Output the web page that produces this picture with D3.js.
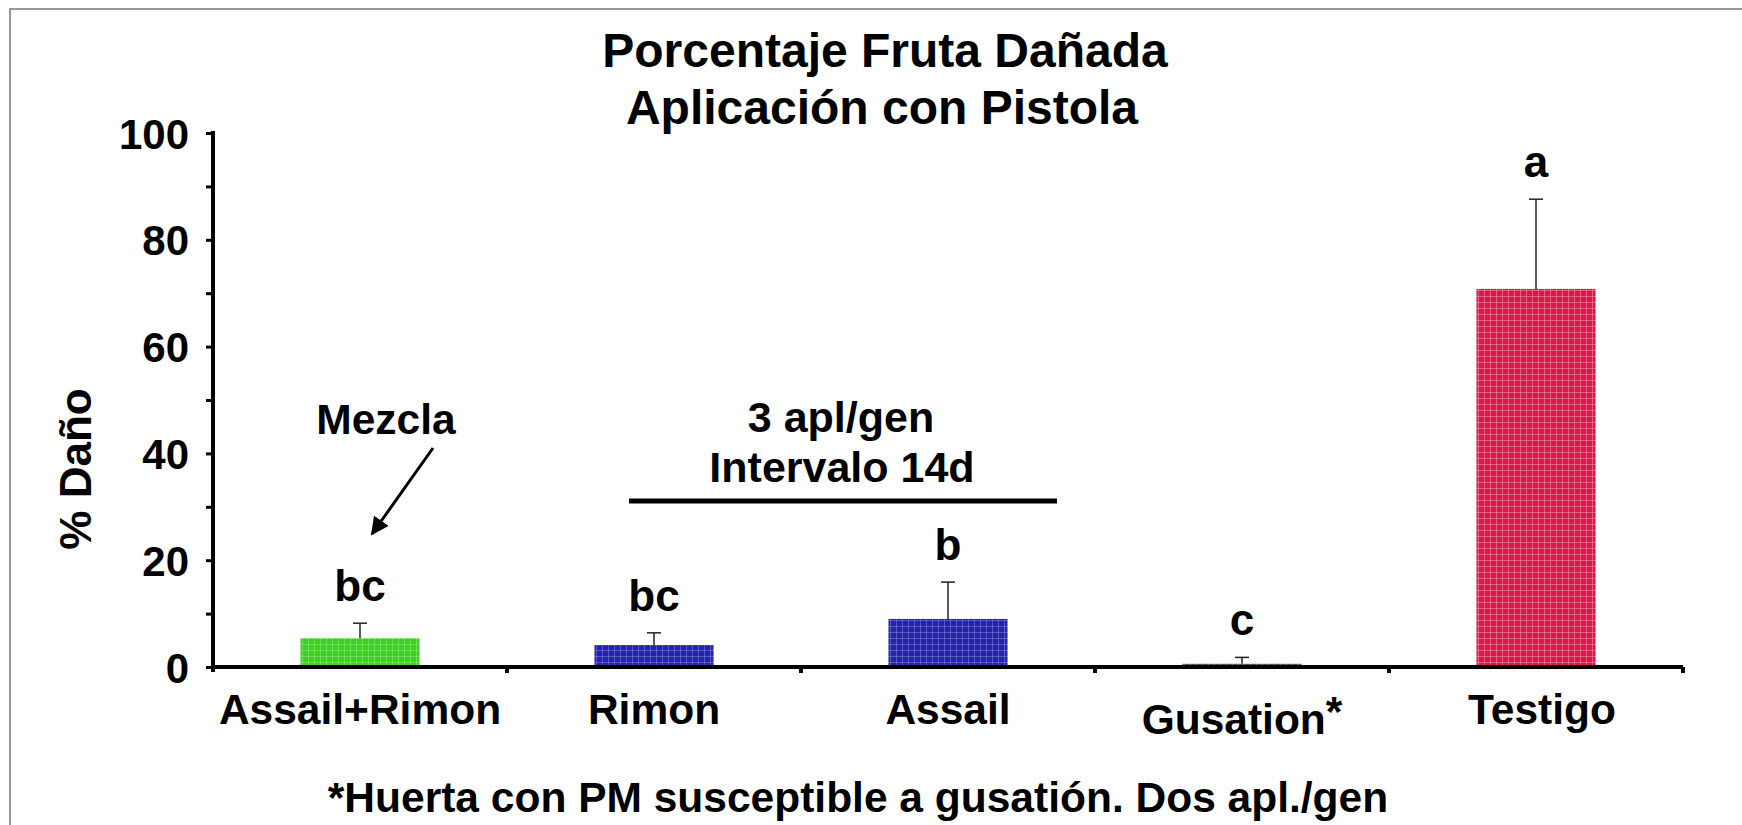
<!DOCTYPE html>
<html>
<head>
<meta charset="utf-8">
<script src="https://cdn.jsdelivr.net/npm/d3@7"></script>
<style>
  body { margin: 0; background: #fff; }
  svg text { font-family: "Liberation Sans", Arial, sans-serif; font-weight: bold; fill: #000; }
</style>
</head>
<body>
<svg id="chart" width="1742" height="825"></svg>
<script>
// data
var categories = ["Assail+Rimon", "Rimon", "Assail", "Gusation", "Testigo"];
var means = [5.4, 4.1, 9.0, 0.6, 70.8];
var upper = [8.2, 6.4, 15.9, 1.8, 87.6];
var letters = ["bc", "bc", "b", "c", "a"];
var yTicks = [0, 20, 40, 60, 80, 100];
var colors = ["#3fcf22", "#2424a6", "#2424a6", "#555555", "#d8184a"];
var lights = ["#8ae87a", "#7a7ad6", "#7a7ad6", "#aaaaaa", "#f08aa4"];

var svg = d3.select("#chart");

// frame
svg.append("rect").attr("x", 10).attr("y", 9).attr("width", 1740).attr("height", 830)
  .attr("fill", "none").attr("stroke", "#777").attr("stroke-width", 1.5);

var x = d3.scaleBand().domain(categories).range([213, 1683])
  .paddingInner(0.595).paddingOuter(0.2975);
var y = d3.scaleLinear().domain([0, 100]).range([667, 133]);

// checkered fills
var defs = svg.append("defs");
categories.forEach(function (c, i) {
  var p = defs.append("pattern").attr("id", "pat" + i)
    .attr("patternUnits", "userSpaceOnUse").attr("width", 6).attr("height", 6);
  p.append("rect").attr("width", 6).attr("height", 6).attr("fill", colors[i]);
  p.append("rect").attr("x", 2).attr("width", 1).attr("height", 6).attr("fill", lights[i]).attr("opacity", 0.6);
  p.append("rect").attr("y", 2).attr("width", 6).attr("height", 1).attr("fill", lights[i]).attr("opacity", 0.6);
});
defs.append("marker").attr("id", "arrow").attr("viewBox", "0 0 10 10")
  .attr("refX", 9).attr("refY", 5).attr("markerWidth", 6).attr("markerHeight", 6)
  .attr("orient", "auto")
  .append("path").attr("d", "M0,0 L10,5 L0,10 z").attr("fill", "#000");

// bars
svg.selectAll("rect.bar").data(categories).enter().append("rect")
  .attr("class", "bar")
  .attr("x", function (d) { return x(d); })
  .attr("width", x.bandwidth())
  .attr("y", function (d, i) { return y(means[i]); })
  .attr("height", function (d, i) { return y(0) - y(means[i]); })
  .attr("fill", function (d, i) { return "url(#pat" + i + ")"; });

// error bars (upper only)
var err = svg.append("g").attr("stroke", "#222").attr("stroke-width", 1.5);
categories.forEach(function (c, i) {
  var cx = x(c) + x.bandwidth() / 2;
  err.append("line").attr("x1", cx).attr("x2", cx).attr("y1", y(means[i])).attr("y2", y(upper[i]));
  err.append("line").attr("x1", cx - 7).attr("x2", cx + 7).attr("y1", y(upper[i])).attr("y2", y(upper[i]));
});

// significance letters
svg.selectAll("text.letter").data(letters).enter().append("text")
  .attr("class", "letter")
  .attr("x", function (d, i) { return x(categories[i]) + x.bandwidth() / 2; })
  .attr("y", function (d, i) { return y(upper[i]) - 22; })
  .attr("text-anchor", "middle").attr("font-size", 44)
  .text(function (d) { return d; });

// y axis
var yAxis = d3.axisLeft(y).tickValues(d3.range(0, 101, 10)).tickSize(7)
  .tickFormat(function (d) { return yTicks.indexOf(d) >= 0 ? d : ""; });
var gy = svg.append("g").attr("transform", "translate(213,0)").call(yAxis);
gy.select(".domain").attr("stroke", "#000").attr("stroke-width", 4).attr("d", "M0,131V672");
gy.selectAll(".tick line").attr("stroke", "#000").attr("stroke-width", 3);
gy.selectAll(".tick text").attr("font-size", 42).attr("x", -24).attr("dy", "0.36em")
  .style("font-family", "'Liberation Sans', Arial, sans-serif").style("font-weight", "bold");

// x axis
var gx = svg.append("g").attr("transform", "translate(0,667)");
gx.append("line").attr("x1", 213).attr("x2", 1683).attr("stroke", "#000").attr("stroke-width", 4);
categories.forEach(function (c) {
  var bx = x(c) + x.bandwidth() / 2 + x.step() / 2;
  gx.append("line").attr("x1", bx).attr("x2", bx).attr("y1", 0).attr("y2", 6)
    .attr("stroke", "#000").attr("stroke-width", 4);
});
categories.forEach(function (c, i) {
  var t = gx.append("text").attr("x", x(c) + x.bandwidth() / 2 + (i === 4 ? 6 : 0))
    .attr("y", i === 3 ? 67 : 57).attr("text-anchor", "middle").attr("font-size", 42.5);
  t.append("tspan").text(c);
  if (i === 3) t.append("tspan").attr("dy", -8).text("*");
});

// titles
svg.append("text").attr("x", 885).attr("y", 67).attr("text-anchor", "middle")
  .attr("font-size", 48).text("Porcentaje Fruta Dañada");
svg.append("text").attr("x", 882).attr("y", 124).attr("text-anchor", "middle")
  .attr("font-size", 48).text("Aplicación con Pistola");

svg.append("text").attr("transform", "translate(91,469) rotate(-90)")
  .attr("text-anchor", "middle").attr("font-size", 44).text("% Daño");

// annotations
svg.append("text").attr("x", 386).attr("y", 434).attr("text-anchor", "middle")
  .attr("font-size", 42.5).text("Mezcla");
svg.append("line").attr("x1", 433).attr("y1", 448).attr("x2", 372).attr("y2", 534)
  .attr("stroke", "#000").attr("stroke-width", 3).attr("marker-end", "url(#arrow)");
svg.append("text").attr("x", 841).attr("y", 432).attr("text-anchor", "middle")
  .attr("font-size", 43).text("3 apl/gen");
svg.append("text").attr("x", 842).attr("y", 482).attr("text-anchor", "middle")
  .attr("font-size", 43).text("Intervalo 14d");
svg.append("line").attr("x1", 629).attr("x2", 1057).attr("y1", 501).attr("y2", 501)
  .attr("stroke", "#000").attr("stroke-width", 5);

svg.append("text").attr("x", 858).attr("y", 812).attr("text-anchor", "middle")
  .attr("font-size", 42.5).text("*Huerta con PM susceptible a gusatión. Dos apl./gen");
</script>
</body>
</html>
